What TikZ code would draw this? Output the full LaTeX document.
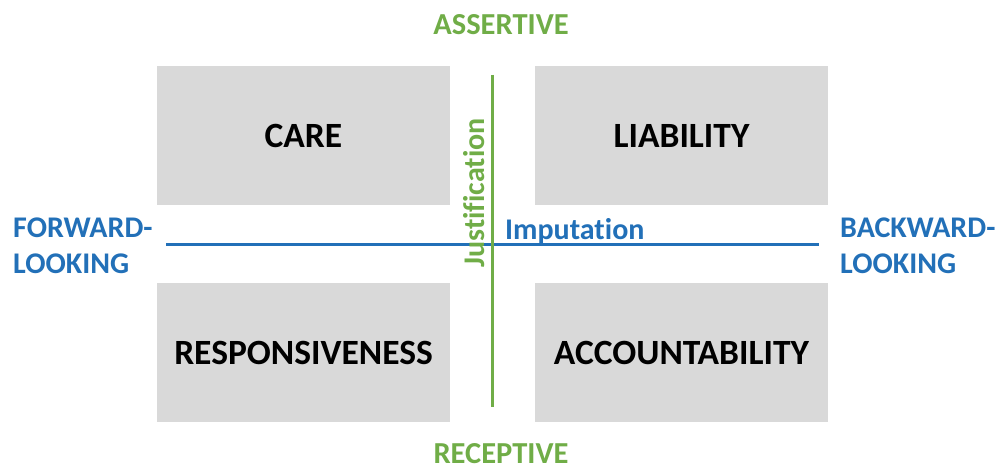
\documentclass[tikz,border=0pt]{standalone}
\usepackage{fontspec}
\setmainfont{Carlito}[Ligatures=NoCommon]
\definecolor{boxgrey}{HTML}{D9D9D9}
\definecolor{axgreen}{HTML}{70AD47}
\definecolor{axblue}{HTML}{2270B8}
\begin{document}
\begin{tikzpicture}[x=1pt,y=-1pt,
  quad/.style={fill=boxgrey, draw=none, minimum width=293pt, minimum height=139pt, inner sep=0pt,
     font=\fontsize{35.5}{40}\selectfont\bfseries, text=black},
  poletext/.style={font=\fontsize{30.5}{36}\selectfont\bfseries, text=axgreen, inner sep=0pt},
  sidetext/.style={font=\fontsize{30}{36}\selectfont\bfseries, text=axblue, inner sep=0pt, anchor=base west},
  axislbl/.style={font=\fontsize{30}{36}\selectfont\bfseries, inner sep=0pt},
  greenaxis/.style={draw=axgreen, line width=3pt},
  blueaxis/.style={draw=axblue, line width=3pt}]
\useasboundingbox (0,0) rectangle (997,468);
\fill[white] (0,0) rectangle (997,468);
\node[quad] (care) at (303.5,135.5) {CARE};
\node[quad] (liab) at (681.5,135.5) {LIABILITY};
\node[quad] (resp) at (303.5,352.5) {RESPONSIVENESS};
\node[quad] (acct) at (681.5,352.5) {ACCOUNTABILITY};
\coordinate (hl) at (166,245);
\coordinate (hr) at (819,245);
\coordinate (vt) at (492,75);
\coordinate (vb) at (492,407);
\draw[blueaxis] (hl) -- (hr);
\draw[greenaxis] (vt) -- (vb);
\node[poletext, anchor=base] (assert) at (501,35) {ASSERTIVE};
\node[poletext, anchor=base] (recep) at (501,463) {RECEPTIVE};
\node[sidetext] (fwda) at (13,237) {FORWARD-};
\node[sidetext] (fwdb) at (13,273) {LOOKING};
\node[sidetext] (bwda) at (840,237) {BACKWARD-};
\node[sidetext] (bwdb) at (840,273) {LOOKING};
\node[axislbl, text=axblue, anchor=base west] (imput) at (505,240) {Imputation};
\node[axislbl, text=axgreen, anchor=base, rotate=90] (justif) at (484,193) {Justification};
\end{tikzpicture}
\end{document}
